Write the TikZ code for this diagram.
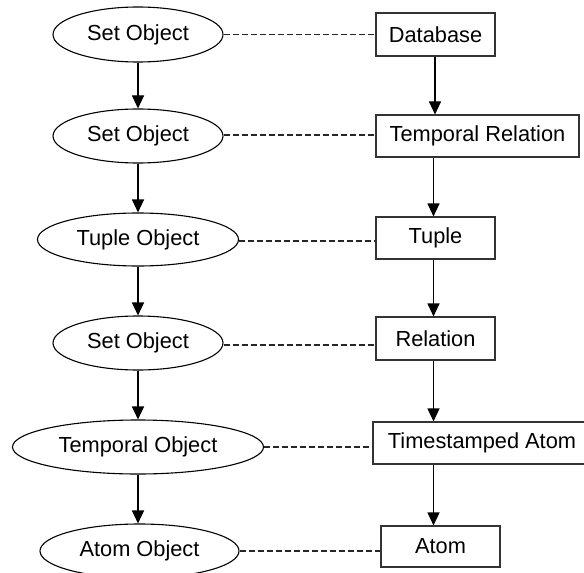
\documentclass[tikz,border=0pt]{standalone}
\usepackage{fontspec}
\setmainfont{Liberation Sans}
\usetikzlibrary{arrows.meta,shapes.geometric}
\begin{document}
\begin{tikzpicture}[x=1bp,y=-1bp,
  every node/.style={font=\fontsize{21.8bp}{25bp}\selectfont, inner sep=0pt},
  ell/.style={ellipse, draw=black, line width=1.1bp},
  box/.style={rectangle, draw=black!80, line width=1.1bp},
  arr/.style={-{Triangle[length=13bp,width=12bp]}, line width=1.1bp, draw=black},
  dsh/.style={line width=1.1bp, dash pattern=on 6bp off 3bp, draw=black!85}]
\useasboundingbox (0,0) rectangle (584,573);
% ellipses
\node[ell, minimum width=170bp, minimum height=55bp] (E1) at (138,34.5) {Set Object};
\node[ell, minimum width=170bp, minimum height=54bp] (E2) at (138,136) {Set Object};
\node[ell, minimum width=201bp, minimum height=53bp] (E3) at (138,239.5) {Tuple Object};
\node[ell, minimum width=170bp, minimum height=54bp] (E4) at (138,343) {Set Object};
\node[ell, minimum width=251bp, minimum height=54bp] (E5) at (138,447) {Temporal Object};
\node[ell, minimum width=199bp, minimum height=54bp] (E6) at (139.5,551) {Atom Object};
% boxes
\node[box, minimum width=119bp, minimum height=43bp] (B1) at (435.5,34.5) {Database};
\node[box, minimum width=203bp, minimum height=42bp] (B2) at (477.5,136) {Temporal Relation};
\node[box, minimum width=119bp, minimum height=42bp] (B3) at (435.5,238) {Tuple};
\node[box, minimum width=119bp, minimum height=43bp] (B4) at (435.5,338.5) {Relation};
\node[box, minimum width=218bp, minimum height=42bp] (B5) at (482,443) {Timestamped Atom};
\node[box, minimum width=119bp, minimum height=41bp] (B6) at (440.5,546.5) {Atom};
% arrow columns
\coordinate (ax) at (433.5,0);
\coordinate (bx) at (435,0);
% left arrows
\draw[arr] (E1) -- (E2);
\draw[arr] (E2) -- (E3);
\draw[arr] (E3) -- (E4);
\draw[arr] (E4) -- (E5);
\draw[arr] (E5.south) -- (E6.north -| E5.south);
% right arrows
\draw[arr] (B1.south -| bx) -- (B2.north -| bx);
\draw[arr] (B2.south -| ax) -- (B3.north -| ax);
\draw[arr] (B3.south -| ax) -- (B4.north -| ax);
\draw[arr] (B4.south -| ax) -- (B5.north -| ax);
\draw[arr] (B5.south -| ax) -- (B6.north -| ax);
% dashed links
\draw[dsh] (E1.east) -- (E1.east -| B1.west);
\draw[dsh] ([yshift=1bp]E2.east) -- ([yshift=1bp]E2.east -| B2.west);
\draw[dsh] ([yshift=-1.5bp]E3.east) -- ([yshift=-1.5bp]E3.east -| B3.west);
\draw[dsh] ([yshift=-2bp]E4.east) -- ([yshift=-2bp]E4.east -| B4.west);
\draw[dsh] (E5.east) -- (E5.east -| B5.west);
\draw[dsh] (E6.east) -- (E6.east -| B6.west);
\end{tikzpicture}
\end{document}
